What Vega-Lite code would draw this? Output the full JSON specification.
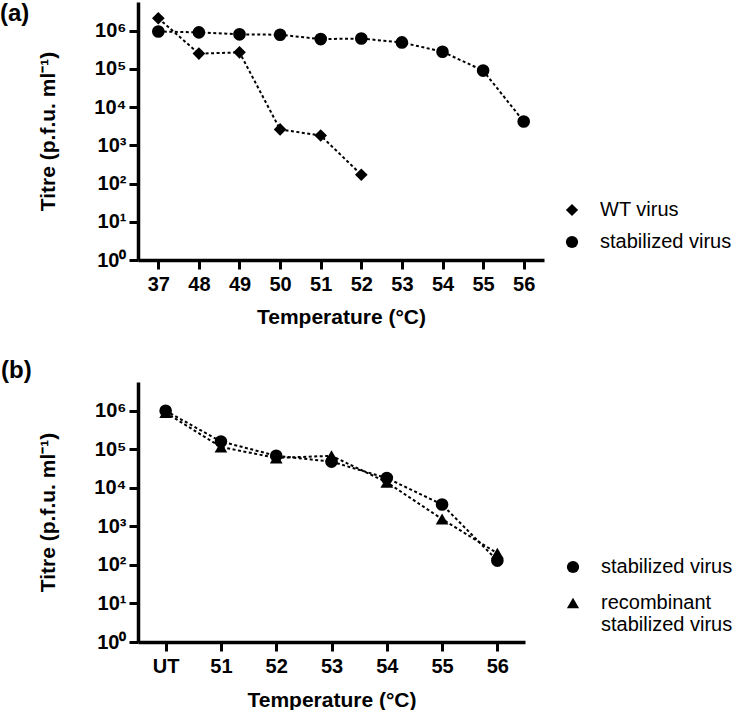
{
  "$schema": "https://vega.github.io/schema/vega-lite/v6.json",
  "padding": {"top": 2, "left": 0, "right": 0, "bottom": 0},
  "background": "white",
  "spacing": 32,
  "resolve": {"scale": {"shape": "independent"}, "legend": {"shape": "independent"}},
  "config": {
    "font": "Liberation Sans",
    "view": {"stroke": null},
    "axis": {
      "domainColor": "black", "domainWidth": 3.5, "tickColor": "black", "tickWidth": 3, "tickSize": 9,
      "labelColor": "black", "labelFont": "Liberation Sans", "labelFontWeight": "bold", "labelFontSize": 20,
      "titleFont": "Liberation Sans", "titleFontWeight": "bold", "titleFontSize": 21, "titleColor": "black", "grid": false
    },
    "legend": {"labelFontSize": 20, "labelColor": "black", "labelFont": "Liberation Sans", "orient": "none", "padding": 0},
    "title": {"font": "Liberation Sans", "fontSize": 24, "fontWeight": "bold", "color": "black", "anchor": "start", "frame": "group", "baseline": "middle", "offset": 0}
  },
  "datasets": {
    "a": [
      {"series": "WT virus", "temp": "37", "titre": 2100000},
      {"series": "WT virus", "temp": "48", "titre": 250000},
      {"series": "WT virus", "temp": "49", "titre": 270000},
      {"series": "WT virus", "temp": "50", "titre": 2600},
      {"series": "WT virus", "temp": "51", "titre": 1800},
      {"series": "WT virus", "temp": "52", "titre": 170},
      {"series": "stabilized virus", "temp": "37", "titre": 950000},
      {"series": "stabilized virus", "temp": "48", "titre": 900000},
      {"series": "stabilized virus", "temp": "49", "titre": 800000},
      {"series": "stabilized virus", "temp": "50", "titre": 780000},
      {"series": "stabilized virus", "temp": "51", "titre": 600000},
      {"series": "stabilized virus", "temp": "52", "titre": 620000},
      {"series": "stabilized virus", "temp": "53", "titre": 490000},
      {"series": "stabilized virus", "temp": "54", "titre": 280000},
      {"series": "stabilized virus", "temp": "55", "titre": 90000},
      {"series": "stabilized virus", "temp": "56", "titre": 4200}
    ],
    "b": [
      {"series": "stabilized virus", "temp": "UT", "titre": 1000000},
      {"series": "stabilized virus", "temp": "51", "titre": 160000},
      {"series": "stabilized virus", "temp": "52", "titre": 68000},
      {"series": "stabilized virus", "temp": "53", "titre": 48000},
      {"series": "stabilized virus", "temp": "54", "titre": 18000},
      {"series": "stabilized virus", "temp": "55", "titre": 3700},
      {"series": "stabilized virus", "temp": "56", "titre": 130},
      {"series": "recombinant stabilized virus", "temp": "UT", "titre": 900000},
      {"series": "recombinant stabilized virus", "temp": "51", "titre": 115000},
      {"series": "recombinant stabilized virus", "temp": "52", "titre": 60000},
      {"series": "recombinant stabilized virus", "temp": "53", "titre": 68000},
      {"series": "recombinant stabilized virus", "temp": "54", "titre": 14000},
      {"series": "recombinant stabilized virus", "temp": "55", "titre": 1550},
      {"series": "recombinant stabilized virus", "temp": "56", "titre": 200}
    ]
  },
  "vconcat": [
    {
      "width": 406, "height": 258,
      "title": {"text": "(a)", "dx": -138, "dy": 28},
      "data": {"name": "a"},
      "encoding": {
        "x": {"field": "temp", "type": "ordinal", "sort": ["37","48","49","50","51","52","53","54","55","56"],
          "scale": {"type": "point", "padding": 0.5},
          "axis": {"title": "Temperature (°C)", "labelAngle": 0, "labelPadding": 5, "titlePadding": 12}},
        "y": {"field": "titre", "type": "quantitative",
          "scale": {"type": "log", "domain": [1, 5600000], "nice": false},
          "axis": {"title": "Titre (p.f.u. ml⁻¹)", "values": [1, 10, 100, 1000, 10000, 100000, 1000000],
            "labelExpr": "datum.value < 5 ? '10⁰' : datum.value < 50 ? '10¹' : datum.value < 500 ? '10²' : datum.value < 5000 ? '10³' : datum.value < 50000 ? '10⁴' : datum.value < 500000 ? '10⁵' : '10⁶'",
            "labelPadding": 3, "titlePadding": 35}}
      },
      "layer": [
        {"mark": {"type": "line", "strokeDash": [3, 2.5], "strokeWidth": 2, "color": "black"},
         "encoding": {"detail": {"field": "series"}, "order": {"value": null}}},
        {"mark": {"type": "point", "filled": true, "opacity": 1, "color": "black", "size": 160},
         "encoding": {"shape": {"field": "series", "type": "nominal",
           "scale": {"domain": ["WT virus", "stabilized virus"], "range": ["diamond", "circle"]},
           "legend": {"title": null, "legendX": 424, "legendY": 198, "symbolSize": 150, "symbolFillColor": "black", "symbolStrokeColor": "black", "symbolStrokeWidth": 0, "labelOffset": 18, "rowPadding": 12,
             "encode": {"symbols": {"shape": {"signal": "datum.value == 'WT virus' ? 'M-1,0L0,-1L1,0L0,1Z M-2.2,-0.13h0.4v0.26h-0.4Z M-1.6,-0.13h0.45v0.26h-0.45Z M1.15,-0.13h0.45v0.26h-0.45Z M1.8,-0.13h0.4v0.26h-0.4Z' : 'M-1,0A1,1,0,1,1,1,0A1,1,0,1,1,-1,0Z M-2.2,-0.13h0.4v0.26h-0.4Z M-1.6,-0.13h0.45v0.26h-0.45Z M1.15,-0.13h0.45v0.26h-0.45Z M1.8,-0.13h0.4v0.26h-0.4Z'"}}}}}}}
      ]
    },
    {
      "width": 387, "height": 260,
      "title": {"text": "(b)", "dx": -137, "dy": 5},
      "data": {"name": "b"},
      "encoding": {
        "x": {"field": "temp", "type": "ordinal", "sort": ["UT","51","52","53","54","55","56"],
          "scale": {"type": "point", "padding": 0.5},
          "axis": {"title": "Temperature (°C)", "labelAngle": 0, "labelPadding": 5, "titlePadding": 13}},
        "y": {"field": "titre", "type": "quantitative",
          "scale": {"type": "log", "domain": [1, 5600000], "nice": false},
          "axis": {"title": "Titre (p.f.u. ml⁻¹)", "values": [1, 10, 100, 1000, 10000, 100000, 1000000],
            "labelExpr": "datum.value < 5 ? '10⁰' : datum.value < 50 ? '10¹' : datum.value < 500 ? '10²' : datum.value < 5000 ? '10³' : datum.value < 50000 ? '10⁴' : datum.value < 500000 ? '10⁵' : '10⁶'",
            "labelPadding": 3, "titlePadding": 35}}
      },
      "layer": [
        {"mark": {"type": "line", "strokeDash": [3, 2.5], "strokeWidth": 2, "color": "black"},
         "encoding": {"detail": {"field": "series"}, "order": {"value": null}}},
        {"mark": {"type": "point", "filled": true, "opacity": 1, "color": "black", "size": 160},
         "encoding": {"shape": {"field": "series", "type": "nominal",
           "scale": {"domain": ["stabilized virus", "recombinant stabilized virus"], "range": ["circle", "triangle-up"]},
           "legend": {"title": null, "legendX": 425, "legendY": 175, "symbolSize": 150, "symbolFillColor": "black", "symbolStrokeColor": "black", "symbolStrokeWidth": 0, "labelOffset": 18, "rowPadding": 16,
             "labelExpr": "datum.label == 'recombinant stabilized virus' ? ['recombinant', 'stabilized virus'] : datum.label",
             "encode": {"symbols": {"shape": {"signal": "datum.value == 'stabilized virus' ? 'M-1,0A1,1,0,1,1,1,0A1,1,0,1,1,-1,0Z M-2.2,-0.13h0.4v0.26h-0.4Z M-1.6,-0.13h0.45v0.26h-0.45Z M1.15,-0.13h0.45v0.26h-0.45Z M1.8,-0.13h0.4v0.26h-0.4Z' : 'M0,-0.95L1.05,0.85L-1.05,0.85Z M-2.2,0.2h0.4v0.26h-0.4Z M-1.6,0.2h0.4v0.26h-0.4Z M1.2,0.2h0.4v0.26h-0.4Z M1.8,0.2h0.4v0.26h-0.4Z'"}}}}}}}
      ]
    }
  ]
}
